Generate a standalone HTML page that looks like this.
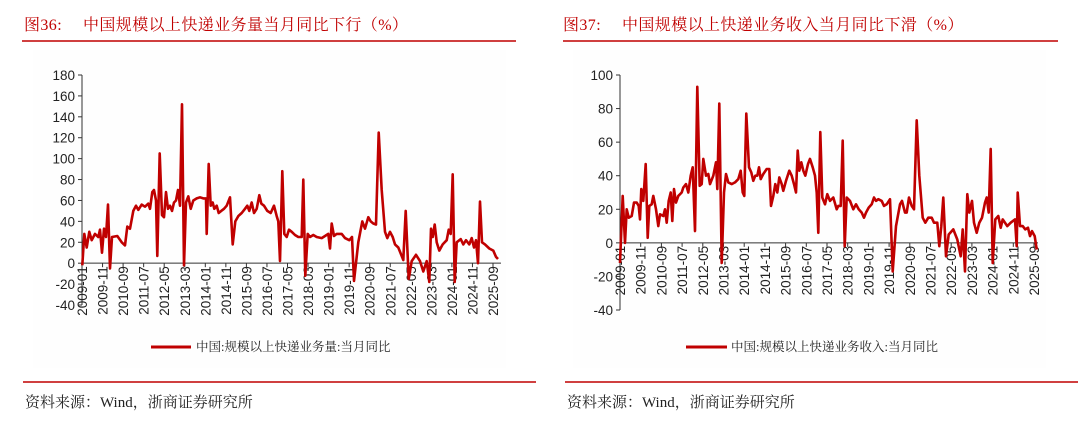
<!DOCTYPE html>
<html><head><meta charset="utf-8">
<style>
html,body{margin:0;padding:0;background:#fff;}
svg{display:block;}
.t{font-family:"Liberation Serif","Noto Serif CJK SC",serif;fill:#c00000;font-size:16px;letter-spacing:0.4px;}
.ax{font-family:"Liberation Sans",sans-serif;font-size:13.5px;fill:#222;}
.lg{font-family:"Liberation Serif","Noto Serif CJK SC",serif;font-size:12.5px;fill:#222;}
.src{font-family:"Liberation Serif","Noto Serif CJK SC",serif;font-size:15px;fill:#222;}
</style></head><body>
<svg id="s" width="1080" height="422" xmlns="http://www.w3.org/2000/svg">
<rect x="0" y="0" width="1080" height="422" fill="#fff"/>
<rect x="33" y="50" width="473" height="318" fill="#fefefe"/>
<rect x="573" y="50" width="473" height="318" fill="#fefefe"/>
<text class="t" x="24" y="30">图36:</text>
<text class="t" x="83" y="30">中国规模以上快递业务量当月同比下行（%）</text>
<line x1="22" y1="41" x2="516" y2="41" stroke="#c00000" stroke-width="1.5"/>
<text class="t" x="563" y="30">图37:</text>
<text class="t" x="622" y="30">中国规模以上快递业务收入当月同比下滑（%）</text>
<line x1="563" y1="41" x2="1058" y2="41" stroke="#c00000" stroke-width="1.5"/>
<line x1="23" y1="382" x2="536" y2="382" stroke="#c00000" stroke-width="1.5"/>
<line x1="565" y1="382" x2="1078" y2="382" stroke="#c00000" stroke-width="1.5"/>
<text class="src" x="25" y="407">资料来源：Wind，浙商证券研究所</text>
<text class="src" x="567" y="407">资料来源：Wind，浙商证券研究所</text>
<line x1="151" y1="347" x2="191" y2="347" stroke="#c00000" stroke-width="3"/>
<text class="lg" x="196" y="351">中国:规模以上快递业务量:当月同比</text>
<line x1="686" y1="347" x2="727" y2="347" stroke="#c00000" stroke-width="3"/>
<text class="lg" x="731" y="351">中国:规模以上快递业务收入:当月同比</text>
<g id="g"></g>
</svg>
<script>
var NS="http://www.w3.org/2000/svg",g=document.getElementById("g");
function el(n,a,t){var e=document.createElementNS(NS,n);for(var k in a)e.setAttribute(k,a[k]);if(t)e.textContent=t;g.appendChild(e);return e;}
var labs=["2009-01","2009-11","2010-09","2011-07","2012-05","2013-03","2014-01","2014-11","2015-09","2016-07","2017-05","2018-03","2019-01","2019-11","2020-09","2021-07","2022-05","2023-03","2024-01","2024-11","2025-09"];
function chart(o){
 var Y=function(v){return o.top+(o.max-v)*(o.bot-o.top)/(o.max-o.min);};
 el("line",{x1:o.x0,y1:o.top,x2:o.x0,y2:o.bot,stroke:"#333","stroke-width":1});
 for(var v=o.min;v<=o.max;v+=20){var y=Y(v);el("line",{x1:o.x0-4,y1:y,x2:o.x0,y2:y,stroke:"#333"});
  el("text",{class:"ax",x:o.x0-7,y:y+5,"text-anchor":"end"},String(v));}
 var z=Y(0);el("line",{x1:o.x0,y1:z,x2:o.x1,y2:z,stroke:"#333"});
 for(var i=0;i<21;i++){var x=o.x0+i*(o.xl-o.x0)/20;el("line",{x1:x,y1:z,x2:x,y2:z+4,stroke:"#333"});
  el("text",{class:"ax",transform:"translate("+(x+5)+","+(z+3)+") rotate(-90)","text-anchor":"end"},labs[i]);}
 var p=[];for(var j=0;j<o.d.length;j+=2)p.push((o.zx+o.d[j]/3).toFixed(1)+","+Y(o.d[j+1]).toFixed(1));
 el("polyline",{points:p.join(" "),fill:"none",stroke:"#c00000","stroke-width":2.6,"stroke-linejoin":"round"});
}
var L=[157,-2,163,28,170,15,178,30,185,22,195,28,205,25,210,32,216,10,222,33,228,25,234,56,240,-5,246,25,262,26,275,20,285,17,292,35,300,33,310,50,318,55,325,51,335,56,345,54,355,57,360,52,367,68,372,70,378,60,382,7,389,105,396,46,402,44,408,68,414,52,420,55,426,50,432,58,438,60,444,70,450,55,456,152,462,-2,468,58,475,64,482,52,490,60,500,62,510,63,520,62,528,62,530,28,536,95,542,55,548,58,553,52,560,55,566,48,574,50,582,52,590,55,600,63,608,18,616,40,625,45,635,48,645,52,652,55,658,50,665,58,672,48,680,52,688,65,694,57,702,55,712,50,722,48,732,55,740,45,745,40,750,2,757,88,763,28,770,25,777,32,785,30,795,27,805,25,815,25,820,80,826,-12,833,28,840,25,850,27,860,25,875,24,895,28,900,14,905,38,912,26,920,28,935,28,945,24,958,22,966,25,972,-17,985,20,997,40,1005,33,1015,44,1022,40,1030,38,1038,37,1046,125,1055,70,1065,30,1072,24,1080,30,1088,25,1095,18,1105,15,1120,3,1127,50,1136,-15,1145,2,1158,8,1170,2,1180,-8,1190,2,1198,-18,1203,33,1208,25,1214,37,1220,20,1228,12,1238,18,1250,22,1256,32,1262,28,1268,85,1274,-18,1280,20,1292,23,1300,18,1308,22,1318,18,1325,24,1332,15,1338,22,1344,0,1350,59,1356,20,1365,18,1378,14,1390,12,1398,6,1404,4];
var R=[150,-12,158,28,165,0,170,20,176,15,185,16,192,24,200,24,206,22,210,14,214,32,220,25,227,47,233,3,238,22,245,23,250,28,258,20,265,10,270,17,280,16,285,20,290,12,296,25,302,30,307,13,312,32,318,24,325,28,335,30,340,33,348,35,355,30,362,40,368,45,375,7,382,93,389,34,395,35,400,50,408,40,415,41,420,35,430,40,438,48,442,32,448,83,455,-12,462,30,468,41,475,36,485,35,495,36,505,38,512,43,518,30,523,28,529,77,537,45,544,42,550,37,556,40,562,40,567,45,572,38,580,41,590,44,598,44,603,22,610,28,616,35,622,30,628,39,635,35,640,31,648,37,658,43,665,40,672,35,678,30,683,55,688,43,694,48,700,43,706,40,714,47,720,50,728,45,735,40,740,30,745,6,751,66,757,27,765,23,772,29,780,25,790,27,800,20,805,22,812,22,818,61,824,-2,830,27,840,25,850,20,858,23,866,20,875,18,882,15,888,18,896,21,905,23,912,27,918,25,925,26,935,25,942,22,950,23,960,26,968,-17,978,10,990,23,996,25,1005,18,1010,18,1017,27,1025,22,1032,20,1040,73,1048,40,1058,15,1066,12,1075,15,1085,15,1092,12,1102,12,1108,-2,1114,10,1120,27,1128,-8,1136,5,1150,8,1162,2,1172,-8,1178,8,1185,-17,1192,29,1198,18,1206,25,1212,12,1220,6,1228,12,1236,15,1245,24,1250,27,1256,18,1262,56,1268,-12,1276,14,1285,16,1292,9,1298,14,1305,12,1312,10,1322,12,1335,14,1340,-2,1343,30,1350,10,1358,10,1366,8,1374,9,1380,4,1386,7,1394,4,1400,-4];
chart({x0:82,x1:501,xl:493,top:75,bot:305,max:180,min:-40,zx:30,d:L});
chart({x0:620,x1:1038,xl:1034,top:75,bot:310,max:100,min:-40,zx:570,d:R});
</script>
</body></html>
